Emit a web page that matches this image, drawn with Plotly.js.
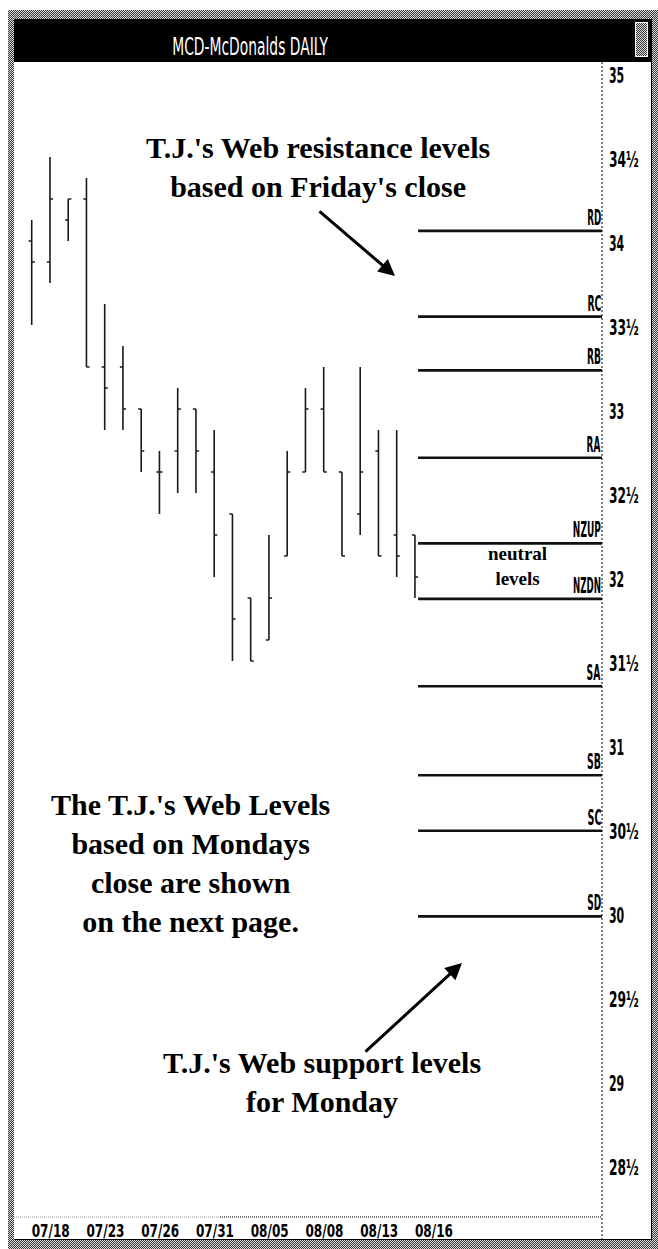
<!DOCTYPE html>
<html><head><meta charset="utf-8">
<script src="https://cdn.plot.ly/plotly-3.0.1.min.js"></script>
<style>
html,body{margin:0;padding:0;background:#fff;}
#wrap{position:relative;width:658px;height:1249px;overflow:hidden;background:#fff;}
.d{position:absolute;background:repeating-conic-gradient(#3a3a3a 0 25%, #d8d8d8 0 50%) 0 0/2px 2px;}
.k{position:absolute;background:#000;}
#chart{position:absolute;left:0;top:0;width:658px;height:1249px;}
</style></head><body>
<div id="wrap">
 <div class="d" style="left:8px;top:10px;width:650px;height:9px"></div>
 <div class="d" style="left:8px;top:10px;width:6px;height:1239px"></div>
 <div class="d" style="left:652px;top:10px;width:6px;height:1239px"></div>
 <div class="d" style="left:8px;top:1240px;width:650px;height:9px"></div>
 <div class="k" style="left:14px;top:19px;width:638px;height:43px"></div>
 <div class="d" style="left:636px;top:23px;width:11px;height:33px;outline:1px solid #fff"></div>
 <div class="k" style="left:651px;top:62px;width:1px;height:1178px"></div>
 <div class="k" style="left:14px;top:1239px;width:638px;height:1px"></div>
 <div id="chart"></div>
</div>
<script>
// ---- data ----
const dates = ['07/18','07/19','07/22','07/23','07/24','07/25','07/26','07/29','07/30','07/31','08/01',
               '08/02','08/05','08/06','08/07','08/08','08/09','08/12','08/13','08/14','08/15','08/16'];
const openP  = [34.0, 33.875, 34.125, 34.25, 33.25, 33.25, 33.0, 32.625, 32.75, 33.0, 32.625,
                32.375, 31.875, 31.625, 32.125, 32.625, 33.0, 32.625, 32.375, 32.75, 32.25, 32.25];
const highP  = [34.125, 34.5, 34.25, 34.375, 33.625, 33.375, 33.0, 32.75, 33.125, 33.0, 32.875,
                32.375, 31.875, 32.25, 32.75, 33.125, 33.25, 32.625, 33.25, 32.875, 32.875, 32.25];
const lowP   = [33.5, 33.75, 34.0, 33.25, 32.875, 32.875, 32.625, 32.375, 32.5, 32.5, 32.0,
                31.5, 31.5, 31.625, 32.125, 32.625, 32.625, 32.125, 32.25, 32.125, 32.0, 31.875];
const closeP = [33.875, 34.25, 34.25, 33.25, 33.125, 33.0, 32.75, 32.625, 33.0, 32.75, 32.25,
                31.75, 31.5, 31.875, 32.625, 33.0, 32.625, 32.125, 32.625, 32.125, 32.125, 32.0];
const levelNames  = ['RD','RC','RB','RA','NZUP','NZDN','SA','SB','SC','SD'];
const levelValues = [34.06, 33.55, 33.23, 32.71, 32.20, 31.87, 31.35, 30.82, 30.49, 29.98];
const yTickVals = [35, 34.5, 34, 33.5, 33, 32.5, 32, 31.5, 31, 30.5, 30, 29.5, 29, 28.5];
const yTickText = ['35','34½','34','33½','33','32½','32','31½','31','30½','30','29½','29','28½'];
const titleText = 'MCD-McDonalds DAILY';

// ---- geometry ----
const W = 658, H = 1249;
const L = 14, R = 602, T = 63, B = 1216;
const pxX = x => (x - L) / (R - L);
const pxY = y => (B - y) / (B - T);
const unitPx = 168, y35 = 73;           // pixels per dollar, pixel row of 35
const yMax = 35 + (y35 - T) / unitPx;
const yMin = 35 - (B - y35) / unitPx;
const barPx = 18.25, bar0 = 31.7;
const xMin = -(bar0 - L) / barPx;
const xMax = xMin + (R - L) / barPx;

const xIdx = dates.map((d, i) => i);
const ohlc = {
  type: 'ohlc', x: xIdx, open: openP, high: highP, low: lowP, close: closeP,
  increasing: {line: {color: '#1a1a1a', width: 1.6}},
  decreasing: {line: {color: '#1a1a1a', width: 1.6}},
  tickwidth: 0.17, hoverinfo: 'skip', showlegend: false
};
const lvStart = xIdx[xIdx.length - 1] + 0.17;
const lx = [], ly = [];
levelValues.forEach(v => { lx.push(lvStart, xMax, null); ly.push(v, v, null); });
const levels = {type: 'scatter', mode: 'lines', x: lx, y: ly,
  line: {color: '#111', width: 2.6}, hoverinfo: 'skip', showlegend: false};

const pixFam = 'Liberation Sans Narrow, DejaVu Sans Condensed, sans-serif';
const pix = {family: pixFam, weight: 'bold', color: '#000'};
const serif = {family: 'Liberation Serif', weight: 'bold', color: '#000'};

const annotations = [];
levelNames.forEach((n, i) => annotations.push({
  xref: 'paper', x: 1, xanchor: 'right', align: 'right', yref: 'y', y: levelValues[i], yanchor: 'bottom',
  text: n, showarrow: false, font: Object.assign({size: 21}, pix), xshift: 1, yshift: -1
}));
function txt(t, x, y, size) {
  return {xref: 'paper', yref: 'paper', x: pxX(x), y: pxY(y), xanchor: 'center', yanchor: 'middle',
    text: t, showarrow: false, align: 'center', font: Object.assign({size: size}, serif)};
}
annotations.push(txt("T.J.'s Web resistance levels<br>based on Friday's close", 318, 167, 30));
annotations.push(txt('neutral<br>levels', 517, 566, 19));
annotations.push(txt("The T.J.'s Web Levels<br>based on Mondays<br>close are shown<br>on the next page.", 190, 863, 30));
annotations.push(txt("T.J.'s Web support levels<br>for Monday", 322, 1082, 30));
function arrow(hx, hy, tx, ty) {
  return {xref: 'paper', yref: 'paper', x: pxX(hx), y: pxY(hy), ax: tx - hx, ay: ty - hy,
    axref: 'pixel', ayref: 'pixel', text: '', showarrow: true, arrowhead: 2, arrowsize: 1.1,
    arrowwidth: 3, arrowcolor: '#000', standoff: 0};
}
annotations.push(arrow(395, 276, 318, 210));
annotations.push(arrow(462, 963, 364, 1053));

const layout = {
  width: W, height: H, margin: {l: L, r: W - R, t: T, b: H - B, pad: 0},
  paper_bgcolor: 'rgba(0,0,0,0)', plot_bgcolor: 'rgba(0,0,0,0)',
  showlegend: false,
  title: {text: titleText, font: {family: pixFam, size: 25, color: '#fff'},
    xref: 'container', yref: 'container', x: 250 / W, xanchor: 'center', y: 1 - 46 / H, yanchor: 'middle'},
  xaxis: {range: [xMin, xMax], rangeslider: {visible: false}, showgrid: false, zeroline: false,
    showline: false, ticks: '', tickangle: 0, tickvals: xIdx.filter(i => i % 3 === 0),
    ticktext: xIdx.filter(i => i % 3 === 0).map(i => dates[i]),
    tickfont: Object.assign({size: 18}, pix), ticklabelshift: 19, ticklabelstandoff: 2, fixedrange: true},
  yaxis: {range: [yMin, yMax], side: 'right', showgrid: false, zeroline: false, showline: false,
    ticks: '', tickvals: yTickVals, ticktext: yTickText, tickfont: Object.assign({size: 21}, pix),
    ticklabelshift: 3, ticklabelstandoff: 6, fixedrange: true},
  shapes: [
    {type: 'line', xref: 'paper', yref: 'paper', x0: 1, x1: 1, y0: pxY(1240), y1: pxY(62),
      line: {color: '#000', width: 1, dash: '2px,2px'}},
    {type: 'line', xref: 'paper', yref: 'paper', x0: pxX(10), x1: pxX(220), y0: pxY(1217), y1: pxY(1217),
      line: {color: '#999', width: 1, dash: '1px,1px'}},
    {type: 'line', xref: 'paper', yref: 'paper', x0: pxX(220), x1: 1, y0: pxY(1217), y1: pxY(1217),
      line: {color: '#777', width: 2, dash: '1px,1px'}}
  ],
  annotations: annotations
};

// narrow the lettering to the widths of the original pixel font (scale about its anchor)
function squashTo(el, target, anchor) {
  const g = document.createElementNS('http://www.w3.org/2000/svg', 'g');
  el.parentNode.insertBefore(g, el);
  g.appendChild(el);
  const b = g.getBBox();
  if (!(b.width > 0)) return;
  const f = Math.min(1, target / b.width);
  const ax = anchor === 'start' ? b.x : anchor === 'end' ? b.x + b.width : b.x + b.width / 2;
  g.setAttribute('transform', 'translate(' + ax + ',0) scale(' + f.toFixed(4) + ',1) translate(' + (-ax) + ',0)');
}
Plotly.newPlot('chart', [ohlc, levels], layout, {staticPlot: true, displayModeBar: false}).then(() => {
  document.querySelectorAll('.ytick text').forEach(el =>
    squashTo(el, el.textContent.length * 7.6 + (el.textContent.includes('½') ? 7 : 0), 'start'));
  document.querySelectorAll('.xtick text').forEach(el => squashTo(el, 38, 'middle'));
  document.querySelectorAll('.gtitle').forEach(el => squashTo(el, 156, 'middle'));
  document.querySelectorAll('.annotation-text').forEach(el => {
    if (levelNames.includes(el.textContent)) squashTo(el, el.textContent.length * 7, 'end');
  });
});
</script>
</body></html>
